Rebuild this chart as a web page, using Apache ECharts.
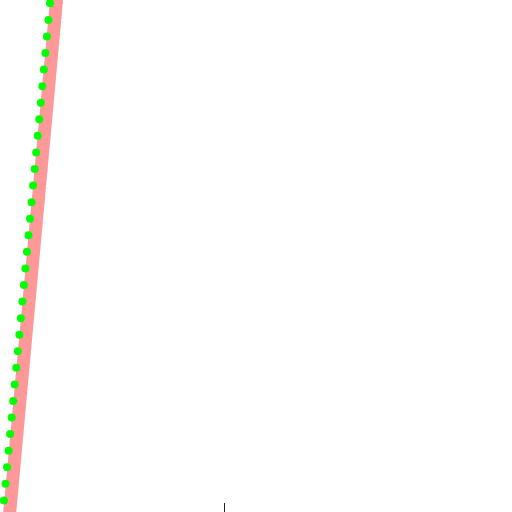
<!DOCTYPE html>
<html>
<head>
<meta charset="utf-8">
<script src="https://cdn.jsdelivr.net/npm/echarts@6/dist/echarts.min.js"></script>
<style>html,body{margin:0;padding:0;background:#fff}#c{width:512px;height:512px}</style>
</head>
<body>
<div id="c"></div>
<script>
// Scatter points (x, y)
var dotX = [0.78,1.08,1.38,1.68,1.98,2.28,2.58,2.88,3.18,3.48,3.78,4.08,4.38,4.67,4.97,5.27,5.57,5.87,6.17,6.47,6.77,7.07,7.37,7.67,7.97,8.27,8.57,8.87,9.17,9.47,9.77];
var dotY = [0,1,2,3,4,5,6,7,8,9,10,11,12,13,14,15,16,17,18,19,20,21,22,23,24,25,26,27,28,29,30];
// Trend line endpoints
var lineX = [1.82, 11.28];
var lineY = [-1, 31];
// Bottom axis tick value
var tickValues = [43.75];

var chart = echarts.init(document.getElementById('c'));
chart.setOption({
  animation: false,
  grid: [
    {left: 0, right: 0, top: 0, bottom: 0},
    {left: 0, right: 0, top: 0, bottom: 9}
  ],
  xAxis: [
    {gridIndex: 0, type: 'value', min: 0, max: 100, show: false},
    {gridIndex: 1, type: 'value', min: 0, max: 100,
     axisLine: {show: false}, splitLine: {show: false}, axisLabel: {show: false},
     axisTick: {show: true, customValues: tickValues, length: 10, lineStyle: {color: '#222', width: 1}}}
  ],
  yAxis: [
    {gridIndex: 0, type: 'value', min: -0.7, max: 30.2, show: false},
    {gridIndex: 1, type: 'value', show: false}
  ],
  series: [
    {type: 'line', xAxisIndex: 0, yAxisIndex: 0, data: lineX.map(function(x,i){return [x, lineY[i]];}),
     showSymbol: false, clip: true, lineStyle: {color: '#ff9999', width: 13}, z: 2},
    {type: 'scatter', xAxisIndex: 0, yAxisIndex: 0, data: dotX.map(function(x,i){return [x, dotY[i]];}),
     symbolSize: 8, itemStyle: {color: '#00ff00', opacity: 1}, z: 3}
  ]
});
</script>
</body>
</html>
